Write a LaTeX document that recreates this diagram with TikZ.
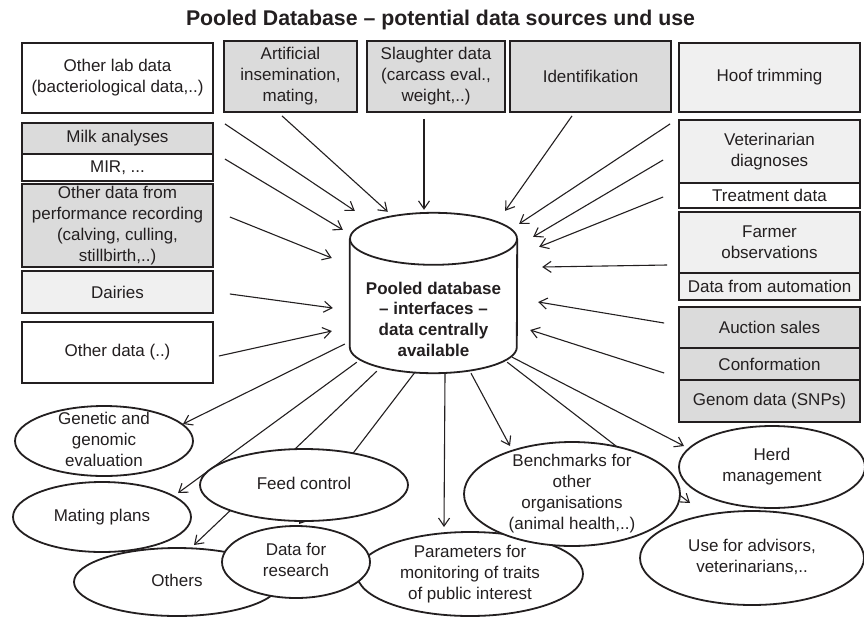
\documentclass[tikz,border=0pt]{standalone}
\usepackage{fontspec}
\setmainfont{Liberation Sans}
\usetikzlibrary{positioning, arrows.meta, shapes.geometric}
\pgfdeclarelayer{back}
\pgfsetlayers{back,main}
\definecolor{ink}{RGB}{35,31,32}
\definecolor{boxdark}{RGB}{219,219,219}
\definecolor{boxlight}{RGB}{240,240,240}
\newcommand{\ovaltext}[1]{\vbox to 0pt{\vss\hbox{\begin{tabular}{@{}c@{}}#1\end{tabular}}\vss}}

\begin{document}
\begin{tikzpicture}[x=1pt, y=-1pt, font=\fontsize{17}{21}\selectfont, text=ink,
	srcbox/.style={rectangle, draw=ink, line width=1.8pt, align=center, inner sep=0pt},
	dark/.style={srcbox, fill=boxdark},
	light/.style={srcbox, fill=boxlight},
	plain/.style={srcbox, fill=white},
	usebox/.style={ellipse, draw=ink, line width=1.8pt, fill=white, inner sep=0pt},
	arr/.style={draw=ink, line width=1.1pt, -{Straight Barb[length=8pt, width=11pt]}},
	dbline/.style={draw=ink, line width=1.8pt}]
		
		\clip (0,0) rectangle (864,616);
		
		%Title
		\node[font=\fontsize{21.3}{25}\selectfont\bfseries] (title) at (440.5,20) 
		{Pooled Database – potential data sources und use};
		
		%Source nodes, top row
		\node[plain, minimum width=191pt, minimum height=70pt] (lab) at (117.5,78) 
		{Other lab data\\(bacteriological data,..)};
		\node[dark, minimum width=133pt, minimum height=71pt] (ai) at (290.5,76.5) 
		{Artificial\\insemination,\\mating,};
		\node[dark, minimum width=138pt, minimum height=71pt] (slaughter) at (436,76.5) 
		{Slaughter data\\(carcass eval.,\\weight,..)};
		\node[dark, minimum width=161pt, minimum height=71pt] (ident) at (590.5,76.5) 
		{Identifikation};
		\node[light, minimum width=181pt, minimum height=69pt] (hoof) at (769.5,77.5) 
		{Hoof trimming};
		
		%Source nodes, left column
		\node[dark, minimum width=191pt, minimum height=31pt] (milk) at (117.5,138.5) 
		{Milk analyses};
		\node[plain, minimum width=191pt, minimum height=27pt] (mir) at (117.5,167.5) 
		{MIR, ...};
		\node[dark, minimum width=191pt, minimum height=83pt] (perf) at (117.5,225.5) 
		{Other data from\\performance recording\\(calving, culling,\\stillbirth,..)};
		\node[light, minimum width=191pt, minimum height=42pt] (dairies) at (117.5,292) 
		{Dairies};
		\node[plain, minimum width=191pt, minimum height=61pt] (otherdata) at (117.5,352.5) 
		{Other data (..)};
		
		%Source nodes, right column
		\node[light, minimum width=181pt, minimum height=63pt] (vet) at (769.5,151.5) 
		{Veterinarian\\diagnoses};
		\node[plain, minimum width=181pt, minimum height=25pt] (treat) at (769.5,195.5) 
		{Treatment data};
		\node[light, minimum width=181pt, minimum height=61pt] (farmer) at (769.5,242.5) 
		{Farmer\\observations};
		\node[light, minimum width=181pt, minimum height=27pt] (auto) at (769.5,286.5) 
		{Data from automation};
		\node[dark, minimum width=181pt, minimum height=41pt] (auction) at (769.5,327.5) 
		{Auction sales};
		\node[dark, minimum width=181pt, minimum height=32pt] (conf) at (769.5,364) 
		{Conformation};
		\node[dark, minimum width=181pt, minimum height=42pt] (genom) at (769.5,401) 
		{Genom data (SNPs)};
		
		%Database
		\node[minimum width=167pt, minimum height=108pt, inner sep=0pt, align=center, 
		font=\fontsize{17}{20.7}\selectfont\bfseries] (db) at (433.5,319) 
		{Pooled database\\– interfaces –\\data centrally\\available};
		\draw[dbline] ([yshift=26pt]db.north west) -- ([yshift=26pt]db.south west) 
		arc[start angle=180, end angle=360, x radius=83.5pt, y radius=26pt] 
		-- ([yshift=26pt]db.north east);
		\draw[dbline] ([yshift=26pt]db.north) ellipse[x radius=83.5pt, y radius=26pt];
		
		%Use nodes
		\node[usebox, minimum width=206pt, minimum height=68pt] (others) at (177,582) 
		{\ovaltext{Others}};
		\node[usebox, minimum width=226pt, minimum height=84pt] (param) at (470,574) 
		{\ovaltext{Parameters for\\monitoring of traits\\of public interest}};
		\node[usebox, minimum width=224pt, minimum height=94pt] (use) at (752,558) 
		{\ovaltext{Use for advisors,\\veterinarians,..}};
		\node[usebox, minimum width=186pt, minimum height=82pt] (herd) at (772,467) 
		{\ovaltext{Herd\\management}};
		\node[usebox, minimum width=178pt, minimum height=70pt] (gen) at (104,441) 
		{\ovaltext{Genetic and\\genomic\\evaluation}};
		\node[usebox, minimum width=178pt, minimum height=70pt] (mating) at (102,517) 
		{\ovaltext{Mating plans}};
		\node[usebox, minimum width=208pt, minimum height=72pt] (feed) at (304,485) 
		{\ovaltext{Feed control}};
		\node[usebox, minimum width=148pt, minimum height=72pt] (dfr) at (296,562) 
		{\ovaltext{Data for\\research}};
		\node[usebox, minimum width=216pt, minimum height=104pt] (bench) at (572,494) 
		{\ovaltext{Benchmarks for\\other\\organisations\\(animal health,..)}};
		
		%Links
		\begin{pgfonlayer}{back}
		\fill[white] (0,0) rectangle (864,616);
		\draw[arr] ([shift={(11,10)}]lab.south east) -- ([shift={(5,-54)}]db.north west);
		\draw[arr] ([shift={(-8.5,3)}]ai.south) -- ([shift={(38,-53)}]db.north west);
		\draw[arr] ([shift={(-12,6)}]slaughter.south) -- ([shift={(-9.5,-55)}]db.north);
		\draw[arr] ([shift={(11,-8.5)}]mir.east) -- ([shift={(-7,-35)}]db.north west);
		\draw[arr] ([shift={(16,-8.5)}]perf.east) -- ([shift={(-18,-61)}]db.west);
		\draw[arr] ([shift={(16,2)}]dairies.east) -- ([shift={(-17,-11)}]db.west);
		\draw[arr] ([shift={(5,3.5)}]otherdata.east) -- ([shift={(-18,12)}]db.west);
		\draw[arr] ([shift={(-18.5,3)}]ident.south) -- ([shift={(-12,-54)}]db.north east);
		\draw[arr] ([shift={(-8,11)}]hoof.south west) -- ([shift={(2,-41)}]db.north east);
		\draw[arr] ([shift={(-15,8.5)}]vet.west) -- ([shift={(16,-28)}]db.north east);
		\draw[arr] ([shift={(-15,1.5)}]treat.west) -- ([shift={(22,-18)}]db.north east);
		\draw[arr] ([shift={(-11,22.5)}]farmer.west) -- ([shift={(25,-52)}]db.east);
		\draw[arr] ([shift={(-14,-4.5)}]auction.west) -- ([shift={(21,-17)}]db.east);
		\draw[arr] ([shift={(-14,9)}]conf.west) -- ([shift={(13,11)}]db.east);
		
		\draw[arr] ([shift={(-5,25)}]db.west) -- ([shift={(79,-17)}]gen.center);
		\draw[arr] ([shift={(7,-11)}]db.south west) -- ([shift={(76,-24)}]mating.center);
		\draw[arr] ([shift={(27,-2)}]db.south west) -- ([shift={(17,-37)}]others.center);
		\draw[arr] ([shift={(-18.5,-1)}]db.south) -- ([shift={(3,-38)}]dfr.center);
		\draw[arr] ([shift={(11.5,1)}]db.south) -- ([shift={(-26,-47)}]param.center);
		\draw[arr] ([shift={(37.5,0)}]db.south) -- ([shift={(-62,-48)}]bench.center);
		\draw[arr] ([shift={(-10,-11)}]db.south east) -- ([shift={(-62,-55)}]use.center);
		\draw[arr] ([shift={(-5,-16)}]db.south east) -- ([shift={(-88,-21)}]herd.center);
		\end{pgfonlayer}
		
\end{tikzpicture}
\end{document}
